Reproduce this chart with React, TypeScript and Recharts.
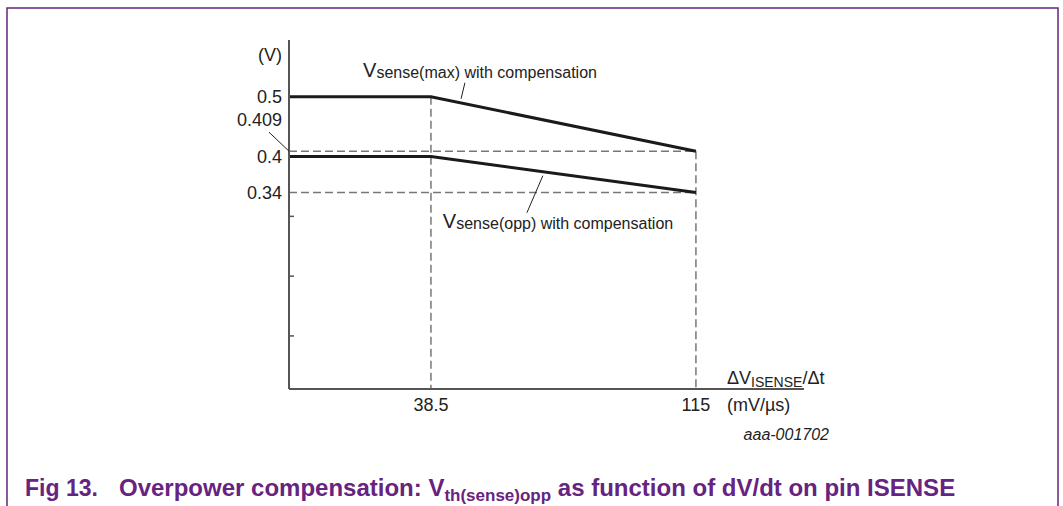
import React from 'react';
import { LineChart, Line, XAxis, YAxis, ReferenceLine, ReferenceDot } from 'recharts';

// ---- data ----
const X_MIN = -2.48;
const X_MAX = 146.2;
const Y_MIN = 0.0112;
const Y_MAX = 0.595;

const xPoints = [X_MIN, 38.5, 115];
const vsenseMax = [0.5, 0.5, 0.409];
const vsenseOpp = [0.4, 0.4, 0.34];
const xTicks = [38.5, 115];
const yLabelTicks = [0.5, 0.409, 0.4, 0.34];
const yMinorTicks = [0.3, 0.2, 0.1];
const yTicks = [...yLabelTicks, ...yMinorTicks];

const data = xPoints.map((x, i) => ({ x, max: vsenseMax[i], opp: vsenseOpp[i] }));

// ---- styles ----
const FONT = "'Liberation Sans', Arial, Helvetica, sans-serif";
const TEXT = '#222';
const AXIS = '#555';
const DASH = '#777';
const PURPLE = '#66237f';

const YTick = (props: any) => {
  const { x, y, payload } = props;
  const v = payload.value;
  const axisX = x + 7;
  if (yMinorTicks.includes(v)) {
    return <line x1={axisX} x2={axisX + 5} y1={y} y2={y} stroke={AXIS} strokeWidth={1.5} />;
  }
  if (v === 0.409) {
    return (
      <g>
        <line x1={axisX - 20} y1={y - 19} x2={axisX} y2={y} stroke={TEXT} strokeWidth={1} />
        <text x={x} y={y - 25} textAnchor="end" fontSize={18} fontFamily={FONT} fill={TEXT}>
          {String(v)}
        </text>
      </g>
    );
  }
  return (
    <text x={x} y={y + 6.5} textAnchor="end" fontSize={18} fontFamily={FONT} fill={TEXT}>
      {String(v)}
    </text>
  );
};

const XTick = (props: any) => {
  const { x, y, payload } = props;
  return (
    <text x={x} y={y + 22} textAnchor="middle" fontSize={18} fontFamily={FONT} fill={TEXT}>
      {String(payload.value)}
    </text>
  );
};

const YUnitLabel = (props: any) => {
  const vb = props.viewBox;
  return (
    <text x={vb.x + vb.width - 7} y={vb.y + 21} textAnchor="end" fontSize={18} fontFamily={FONT} fill={TEXT}>
      (V)
    </text>
  );
};

const XUnitLabel = (props: any) => {
  const vb = props.viewBox;
  const sx = vb.x + vb.width - 77;
  return (
    <g fontFamily={FONT} fill={TEXT}>
      <text x={sx} y={vb.y - 5} fontSize={18}>
        ΔV<tspan fontSize={14} dy={3}>ISENSE</tspan>
        <tspan dy={-3}>/Δt</tspan>
      </text>
      <text x={sx} y={vb.y + 22} fontSize={18}>
        (mV/µs)
      </text>
    </g>
  );
};

const makeSeriesLabel = (sub: string) => (props: any) => {
  const vb = props.viewBox;
  return (
    <text x={vb.x} y={vb.y} fontFamily={FONT} fill={TEXT}>
      <tspan fontSize={20}>V</tspan>
      <tspan fontSize={16} dy={1}>{sub} with compensation</tspan>
    </text>
  );
};

export default function App() {
  return (
    <div style={{ position: 'absolute', left: 0, top: 0, width: 1063, height: 506, background: '#fff' }}>
      <svg width={1063} height={506} style={{ position: 'absolute', left: 0, top: 0 }}>
        <path d="M7,506 V8 H1058 V506" fill="none" stroke={PURPLE} strokeWidth={1.5} />
        <text x={829} y={440} textAnchor="end" fontSize={16} fontStyle="italic" fontFamily={FONT} fill={TEXT}>
          aaa-001702
        </text>
        <text x={25} y={496} fontSize={23} fontWeight="bold" fontFamily={FONT} fill={PURPLE}>
          Fig 13.
          <tspan x={119} fontSize={24}>Overpower compensation: V</tspan>
          <tspan fontSize={17} dy={5}>th(sense)opp</tspan>
          <tspan fontSize={24} dy={-5}> as function of dV/dt on pin ISENSE</tspan>
        </text>
      </svg>
      <div style={{ position: 'absolute', left: 0, top: 0 }}>
        <LineChart width={1063} height={506} data={data} margin={{ top: 40, right: 259, bottom: 87, left: 229 }}>
          <XAxis
            dataKey="x"
            type="number"
            domain={[X_MIN, X_MAX]}
            ticks={xTicks}
            allowDataOverflow
            height={30}
            tickLine={false}
            tickSize={0}
            tickMargin={0}
            tick={<XTick />}
            axisLine={{ stroke: AXIS, strokeWidth: 2 }}
            label={<XUnitLabel />}
          />
          <YAxis
            type="number"
            domain={[Y_MIN, Y_MAX]}
            ticks={yTicks}
            allowDataOverflow
            width={60}
            tickLine={false}
            tickSize={0}
            tickMargin={7}
            tick={<YTick />}
            axisLine={{ stroke: AXIS, strokeWidth: 2 }}
            interval={0}
            label={<YUnitLabel />}
          />
          <ReferenceLine segment={[{ x: 38.5, y: 0.5 }, { x: 38.5, y: Y_MIN }]} stroke={DASH} strokeWidth={1.5} strokeDasharray="8 4" />
          <ReferenceLine segment={[{ x: 115, y: 0.409 }, { x: 115, y: Y_MIN }]} stroke={DASH} strokeWidth={1.5} strokeDasharray="8 4" />
          <ReferenceLine segment={[{ x: X_MIN, y: 0.409 }, { x: 115, y: 0.409 }]} stroke={DASH} strokeWidth={1.5} strokeDasharray="8 4" />
          <ReferenceLine segment={[{ x: X_MIN, y: 0.34 }, { x: 115, y: 0.34 }]} stroke={DASH} strokeWidth={1.5} strokeDasharray="8 4" />
          <Line dataKey="max" type="linear" stroke="#1a1a1a" strokeWidth={3} dot={false} isAnimationActive={false} />
          <Line dataKey="opp" type="linear" stroke="#1a1a1a" strokeWidth={3} dot={false} isAnimationActive={false} />
          <ReferenceLine segment={[{ x: 48.3, y: 0.5234 }, { x: 47.2, y: 0.4967 }]} stroke={TEXT} strokeWidth={1} />
          <ReferenceLine segment={[{ x: 70.8, y: 0.3679 }, { x: 66.2, y: 0.306 }]} stroke={TEXT} strokeWidth={1} />
          <ReferenceDot x={18.9} y={0.5334} r={0} fill="none" stroke="none" label={makeSeriesLabel('sense(max)')} />
          <ReferenceDot x={41.94} y={0.2809} r={0} fill="none" stroke="none" label={makeSeriesLabel('sense(opp)')} />
        </LineChart>
      </div>
    </div>
  );
}
